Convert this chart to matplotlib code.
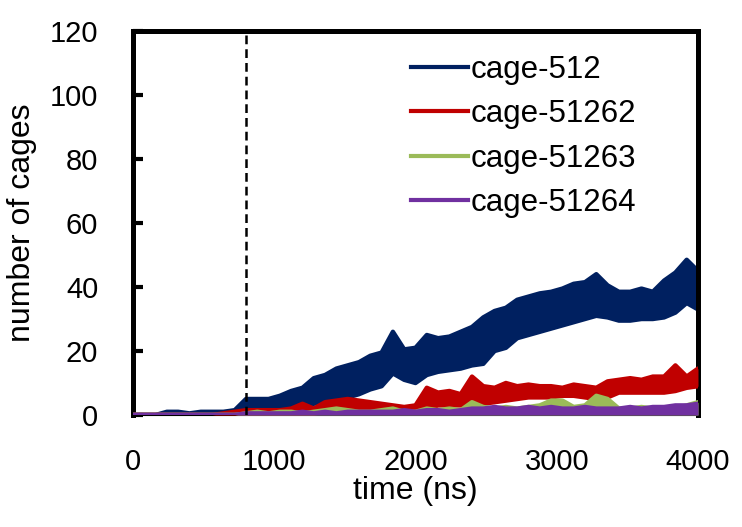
import numpy as np
import matplotlib
matplotlib.use("Agg")
import matplotlib.pyplot as plt
from matplotlib.lines import Line2D

plt.rcParams['font.family'] = ['Liberation Sans', 'DejaVu Sans']

# time stamps (ns), one every 80 ns
time_ns = np.arange(0, 4001, 80)

# upper / lower edge of each noisy trace
blue_hi = [0, 0, 0, 1, 1, 0.5, 1, 1, 1, 1.5,
           5, 5, 5, 6, 7.5, 8.5, 11.5, 12.5, 14.5, 15.5,
           16.5, 18.5, 19.5, 26, 20.5, 21, 25, 24, 24.5, 26,
           27.5, 30.5, 32.5, 33.5, 36, 37, 38, 38.5, 39.5, 41,
           41.5, 44, 40.5, 38.5, 38.5, 39.5, 38.5, 42, 44.5, 48.5, 45]
blue_lo = [0, 0, 0, 0, 0, 0, 0, 0, 0, 0,
           1.5, 1.5, 1.5, 2, 2, 2.5, 3.5, 4.5, 5, 5.5,
           6.5, 8, 9, 13, 11, 10, 12.5, 13.5, 14, 14.5,
           15.5, 16, 20, 21, 24, 25, 26, 27, 28, 29,
           30, 31, 30.5, 29.5, 29.5, 30, 30, 30.5, 32, 35, 33]

red_hi = [0, 0, 0, 0, 0, 0, 0, 0, 0.5, 1,
          1.5, 1.5, 1.5, 1.5, 2, 3.5, 2, 4, 4.5, 5,
          4.5, 4, 3.5, 3, 2.5, 3, 8.5, 7, 7.5, 6.5,
          12, 9, 8.5, 10, 9, 9.5, 9, 9, 8.5, 9.5,
          9, 8.5, 10.5, 11, 11.5, 11, 12, 12, 15.5, 12, 14.5]
red_lo = [0, 0, 0, 0, 0, 0, 0, 0, 0, 0,
          0, 0, 0, 0, 0, 0, 0, 0.5, 0.5, 1,
          1, 1, 1, 0.5, 0.5, 1, 2, 3, 3, 3,
          3, 3.5, 4, 4.5, 5, 5.5, 5.5, 5.5, 6, 6,
          5.5, 5, 5.5, 7, 7, 7, 7, 7, 7.5, 8.5, 9]

green_hi = [0, 0, 0, 0, 0, 0, 0, 0, 0, 0,
            0.5, 1, 0.5, 1, 1, 0.5, 1, 1.5, 2, 1.5,
            1, 1, 1.5, 2, 1, 1, 2, 1.5, 2, 1.5,
            4, 2.5, 2, 2.5, 2, 2.5, 3, 4.5, 4.5, 2.5,
            3, 6, 5, 2, 2, 2.5, 2, 1.5, 2, 3, 4]
green_lo = [0] * 51

purple_hi = [0, 0, 0, 0, 0, 0, 0, 0, 0, 0,
             0.5, 0.5, 0.5, 0.5, 0.5, 1, 0.5, 1, 0.5, 1,
             1, 1, 1, 1, 1.5, 1, 1.5, 1.5, 1, 1.5,
             2, 2, 2.5, 2, 2, 2.5, 2, 2.5, 2, 2,
             2.5, 2, 2, 2, 2.5, 2, 2.5, 2.5, 3, 3, 3.5]
purple_lo = [0] * 51

labels = ['cage-512', 'cage-51262', 'cage-51263', 'cage-51264']
colors = ['#002060', '#C00000', '#9BBB59', '#7030A0']
onset_ns = 800

fig = plt.figure(figsize=(7.42, 5.27), dpi=100)
ax = fig.add_axes([133 / 742, 1 - 415 / 527, 565 / 742, 384 / 527])

series = [(blue_hi, blue_lo), (red_hi, red_lo), (green_hi, green_lo), (purple_hi, purple_lo)]
for i, ((hi, lo), c) in enumerate(zip(series, colors)):
    ax.fill_between(time_ns, lo, hi, color=c, lw=0, zorder=2 + i)
    ax.plot(time_ns, hi, color=c, lw=3.2, solid_capstyle='round', solid_joinstyle='round', zorder=2 + i)
    ax.plot(time_ns, lo, color=c, lw=3.2, solid_capstyle='round', solid_joinstyle='round', zorder=2 + i)

ax.axvline(onset_ns, color='black', lw=1.8, ls=(0, (3.5, 2)), zorder=10)

ax.set_xlim(0, 4000)
ax.set_ylim(0, 120)
ax.set_xticks([0, 1000, 2000, 3000, 4000])
ax.set_yticks([0, 20, 40, 60, 80, 100, 120])
ax.tick_params(axis='y', direction='in', length=7, width=3, pad=25, labelsize=21)
ax.tick_params(axis='x', length=0, pad=24, labelsize=21)

for s in ['left', 'top', 'right']:
    ax.spines[s].set_linewidth(3.6)
ax.spines['bottom'].set_linewidth(0.8)

ax.set_xlabel('time (ns)', fontsize=23)
ax.set_ylabel('number of cages', fontsize=23)
ax.xaxis.set_label_coords(0.5, -0.16)
ax.yaxis.set_label_coords(-0.17, 0.5)

handles = [Line2D([], [], color=c, lw=3) for c in colors]
fig.legend(handles, labels, loc='upper left', bbox_to_anchor=(411 / 742, 1 - 55 / 527),
           frameon=False, fontsize=22.5, handlelength=1.82, handletextpad=0.1,
           labelspacing=0.46, borderpad=0, borderaxespad=0)

fig.savefig('out.png', dpi=100)
